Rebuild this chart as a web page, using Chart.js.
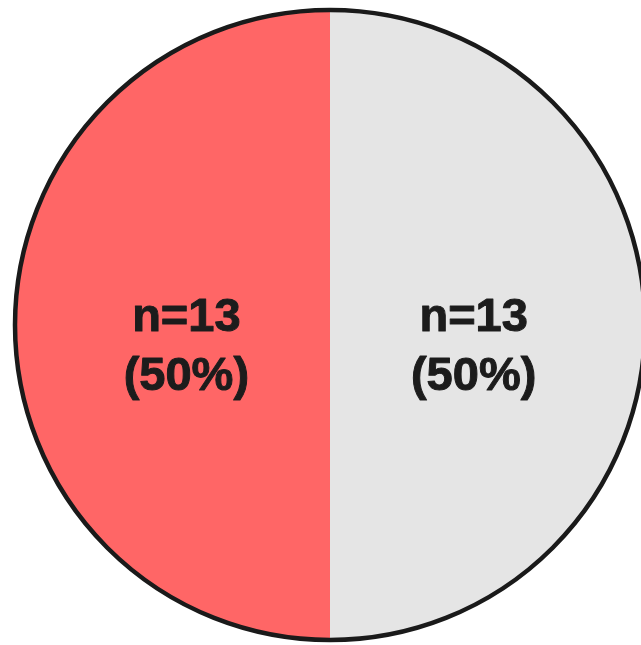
<!DOCTYPE html>
<html>
<head>
<meta charset="utf-8">
<script src="https://cdn.jsdelivr.net/npm/chart.js@4/dist/chart.umd.min.js"></script>
<style>
  html, body { margin: 0; padding: 0; background: #ffffff; overflow: hidden; }
  #wrap { position: absolute; left: 0; top: 0; width: 660px; height: 650px; }
</style>
</head>
<body>
<div id="wrap"><canvas id="pie"></canvas></div>
<script>
// Group counts (clockwise from 12 o'clock)
const categories = ['Group B', 'Group A'];
const counts = [13, 13];
const sliceColors = ['#e5e5e5', '#ff6666'];

const total = counts.reduce((a, b) => a + b, 0);

// Thick dark rim around the whole pie
const rimPlugin = {
  id: 'rim',
  afterDatasetsDraw(chart) {
    const arc = chart.getDatasetMeta(0).data[0];
    if (!arc) return;
    const ctx = chart.ctx;
    ctx.save();
    ctx.beginPath();
    ctx.arc(arc.x, arc.y, arc.outerRadius, 0, Math.PI * 2);
    ctx.lineWidth = 4.5;
    ctx.strokeStyle = '#1a1a1a';
    ctx.stroke();
    ctx.restore();
  }
};

// "n=.. (..%)" label inside each slice
const labelPlugin = {
  id: 'sliceLabels',
  afterDatasetsDraw(chart) {
    const ctx = chart.ctx;
    const meta = chart.getDatasetMeta(0);
    meta.data.forEach((arc, i) => {
      const mid = (arc.startAngle + arc.endAngle) / 2;
      const r = arc.outerRadius * 0.456;
      const x = arc.x + Math.cos(mid) * r;
      const y = arc.y + Math.sin(mid) * r;
      const pct = Math.round(counts[i] / total * 100);
      const lines = ['n=' + counts[i], '(' + pct + '%)'];
      ctx.save();
      ctx.fillStyle = '#1c1c1c';
      ctx.strokeStyle = '#1c1c1c';
      ctx.lineWidth = 1;
      ctx.lineJoin = 'round';
      ctx.textAlign = 'center';
      ctx.textBaseline = 'alphabetic';
      ctx.font = 'bold 47px "Liberation Sans", Arial, sans-serif';
      ctx.fillText(lines[0], x, y + 6);
      ctx.strokeText(lines[0], x, y + 6);
      ctx.fillText(lines[1], x, y + 65);
      ctx.strokeText(lines[1], x, y + 65);
      ctx.restore();
    });
  }
};

new Chart(document.getElementById('pie'), {
  type: 'pie',
  data: {
    labels: categories,
    datasets: [{
      data: counts,
      backgroundColor: sliceColors,
      borderWidth: 0
    }]
  },
  options: {
    responsive: true,
    maintainAspectRatio: false,
    animation: false,
    layout: { padding: 10 },
    plugins: {
      legend: { display: false },
      tooltip: { enabled: false }
    }
  },
  plugins: [rimPlugin, labelPlugin]
});
</script>
</body>
</html>
